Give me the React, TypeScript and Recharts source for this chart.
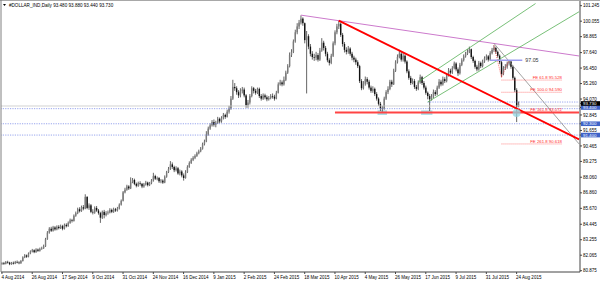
import React from "react";
import {
  ComposedChart,
  Bar,
  XAxis,
  YAxis,
  ReferenceLine,
  ReferenceArea,
  ReferenceDot,
} from "recharts";

// daily closes, 4 Aug 2014 .. 25 Aug 2015
const closes = [
  81.45, 81.4, 81.55, 81.5, 81.38, 81.48, 81.42, 81.55, 81.5, 81.45,
  81.62, 81.9, 82.05, 81.95, 82.2, 82.35, 82.45, 82.3, 82.5, 82.4,
  82.55, 82.6, 82.75, 83.3, 83.8, 84.1, 83.95, 84.2, 84.05, 84.25,
  84.15, 84.3, 84.1, 84.4, 84.3, 84.55, 84.75, 84.7, 85.1, 85.3,
  85.6, 85.45, 85.75, 85.65, 86.55, 85.7, 85.9, 85.4, 85.35, 85.7,
  85.5, 85.3, 84.95, 85.4, 85.15, 85.3, 85.35, 85.55, 85.4, 85.6,
  85.5, 85.65, 85.95, 86.25, 86.9, 87.1, 87.35, 87.2, 87.7, 87.85,
  87.55, 87.4, 87.6, 87.55, 87.35, 87.5, 87.65, 87.45, 87.6, 87.8,
  88.15, 87.95, 88.0, 87.75, 87.8, 87.65, 88.1, 88.45, 88.7, 89.05,
  88.85, 88.6, 88.75, 88.35, 88.5, 88.2, 88.0, 88.45, 88.85, 89.15,
  89.4, 89.55, 89.7, 89.9, 90.05, 90.25, 90.6, 90.8, 91.35, 91.8,
  92.05, 92.3, 92.1, 92.25, 92.55, 92.35, 92.6, 92.85, 92.7, 93.1,
  93.35, 94.1, 95.0, 94.9, 94.6, 94.35, 94.7, 94.8, 94.35, 93.6,
  93.8, 94.3, 94.9, 94.7, 94.55, 94.85, 94.3, 94.1, 94.35, 94.2,
  94.05, 94.15, 94.3, 94.25, 94.1, 94.55, 95.2, 95.35, 95.2, 95.55,
  96.1, 96.6, 97.45, 97.7, 98.5, 99.2, 99.65, 99.95, 100.25, 99.9,
  98.6, 98.9, 98.1, 97.55, 97.3, 97.25, 97.45, 97.1, 97.8, 98.4,
  98.0, 97.55, 97.05, 96.85, 97.4, 98.35, 99.2, 99.65, 99.85, 99.0,
  98.3, 97.85, 97.7, 97.95, 97.55, 97.25, 97.1, 96.9, 96.6, 95.45,
  94.9, 95.25, 95.6, 95.4, 94.95, 94.7, 94.85, 94.45, 94.1, 93.7,
  93.35, 93.3, 94.1, 94.6, 94.85, 95.4, 95.2, 96.25, 96.9, 97.3,
  97.55, 97.1, 97.4, 96.95, 96.2, 95.7, 95.3, 95.45, 95.0, 94.85,
  95.35, 95.75, 95.3, 94.95, 94.55, 94.3, 94.05, 94.25, 94.6, 94.45,
  94.95, 95.4, 95.2, 95.6, 95.45, 95.9, 96.25, 96.1, 96.45, 96.8,
  96.35, 96.05, 96.7, 97.05, 97.35, 97.55, 97.7, 97.9, 97.3, 97.0,
  96.55, 96.35, 96.85, 96.6, 96.95, 97.2, 97.35, 97.1, 97.6, 97.85,
  98.0, 97.7, 97.4, 96.9, 96.0, 96.45, 96.55, 96.8, 96.95, 96.55,
  95.7, 94.75, 93.48, 93.73,
];

const highs = [
  81.52, 81.55, 81.62, 81.64, 81.56, 81.55, 81.58, 81.63, 81.66, 81.6,
  81.7, 81.98, 82.15, 82.12, 82.28, 82.44, 82.55, 82.52, 82.6, 82.58,
  82.65, 82.72, 82.88, 83.4, 83.92, 84.22, 84.25, 84.32, 84.3, 84.36,
  84.38, 84.42, 84.4, 84.5, 84.52, 84.66, 84.88, 84.86, 85.2, 85.42,
  85.72, 85.75, 85.88, 85.92, 86.75, 86.6, 86.05, 86.0, 85.6, 85.82,
  85.85, 85.62, 85.4, 85.5, 85.55, 85.45, 85.5, 85.68, 85.65, 85.72,
  85.7, 85.78, 86.05, 86.35, 87.0, 87.25, 87.48, 87.45, 88.05, 88.0,
  87.95, 87.65, 87.72, 87.75, 87.62, 87.62, 87.78, 87.72, 87.7, 87.92,
  88.4, 88.25, 88.12, 88.08, 87.92, 87.9, 88.2, 88.55, 88.85, 89.3,
  89.2, 88.95, 88.9, 88.85, 88.65, 88.6, 88.35, 88.6, 88.98, 89.28,
  89.52, 89.68, 89.82, 90.02, 90.18, 90.38, 90.72, 90.95, 91.6, 91.95,
  92.2, 92.45, 92.5, 92.4, 92.7, 92.65, 92.75, 93.0, 92.95, 93.25,
  93.55, 94.3, 95.55, 95.3, 95.05, 94.75, 94.9, 95.0, 94.95, 94.45,
  94.0, 94.45, 95.05, 95.0, 94.85, 94.95, 94.95, 94.45, 94.5, 94.48,
  94.35, 94.3, 94.45, 94.5, 94.4, 94.7, 95.35, 95.55, 95.5, 95.8,
  96.25, 96.75, 97.65, 97.9, 98.65, 99.4, 99.9, 100.15, 100.5, 100.35,
  99.95, 99.3, 99.05, 98.3, 97.75, 97.55, 97.7, 97.6, 98.0, 98.75,
  98.55, 98.15, 97.7, 97.2, 97.55, 98.5, 99.35, 99.85, 100.1, 99.95,
  99.15, 98.45, 98.05, 98.15, 98.05, 97.7, 97.4, 97.25, 97.05, 96.7,
  95.6, 95.45, 95.8, 95.75, 95.55, 95.1, 95.05, 94.95, 94.6, 94.2,
  93.85, 93.55, 94.25, 94.75, 95.05, 95.55, 95.55, 96.4, 97.05, 97.5,
  97.85, 97.7, 97.6, 97.5, 97.05, 96.35, 95.85, 95.65, 95.6, 95.15,
  95.5, 95.95, 95.85, 95.45, 95.1, 94.65, 94.45, 94.45, 94.8, 94.75,
  95.1, 95.6, 95.55, 95.8, 95.75, 96.05, 96.45, 96.4, 96.6, 96.95,
  96.9, 96.5, 96.85, 97.2, 97.5, 97.7, 97.9, 98.1, 97.95, 97.4,
  97.1, 96.7, 97.0, 96.95, 97.1, 97.35, 97.5, 97.45, 97.75, 98.0,
  98.2, 98.1, 97.8, 97.5, 97.0, 96.6, 96.75, 96.95, 97.05, 97.05,
  96.65, 95.8, 94.9, 93.88,
];

const lows = [
  81.33, 81.32, 81.36, 81.42, 81.3, 81.33, 81.35, 81.38, 81.44, 81.37,
  81.4, 81.58, 81.84, 81.86, 81.9, 82.14, 82.28, 82.22, 82.25, 82.32,
  82.34, 82.48, 82.55, 82.7, 83.25, 83.72, 83.85, 83.88, 83.95, 83.98,
  84.05, 84.08, 83.98, 84.04, 84.2, 84.25, 84.48, 84.58, 84.65, 85.02,
  85.22, 85.35, 85.4, 85.52, 85.6, 85.6, 85.55, 85.3, 85.2, 85.25,
  85.4, 85.18, 84.55, 84.85, 84.9, 85.05, 85.18, 85.28, 85.3, 85.32,
  85.4, 85.42, 85.58, 85.88, 86.2, 86.82, 87.02, 87.08, 87.15, 87.6,
  87.45, 87.28, 87.32, 87.42, 87.22, 87.25, 87.42, 87.35, 87.38, 87.52,
  87.72, 87.85, 87.82, 87.62, 87.6, 87.55, 87.6, 88.02, 88.38, 88.62,
  88.7, 88.45, 88.5, 88.25, 88.2, 88.05, 87.8, 87.95, 88.38, 88.78,
  89.08, 89.3, 89.45, 89.62, 89.82, 89.98, 90.18, 90.5, 90.75, 91.25,
  91.7, 91.95, 91.95, 91.9, 92.15, 92.2, 92.25, 92.5, 92.55, 92.65,
  92.95, 93.25, 94.0, 94.7, 94.4, 94.15, 94.2, 94.5, 94.2, 93.4,
  93.4, 93.65, 94.2, 94.5, 94.4, 94.45, 94.15, 93.95, 94.0, 94.05,
  93.9, 93.95, 94.05, 94.1, 93.95, 94.05, 94.5, 95.1, 95.05, 95.1,
  95.45, 96.0, 96.5, 97.3, 97.6, 98.4, 99.05, 99.45, 99.8, 99.7,
  98.35, 94.5, 97.9, 97.35, 97.1, 97.0, 97.05, 96.95, 97.0, 97.7,
  97.8, 97.35, 96.9, 96.65, 96.75, 97.3, 98.2, 99.05, 99.45, 98.85,
  98.1, 97.65, 97.5, 97.55, 97.4, 97.05, 96.9, 96.7, 96.45, 95.3,
  94.75, 94.8, 95.1, 95.2, 94.8, 94.55, 94.55, 94.3, 93.95, 93.55,
  93.15, 93.1, 93.25, 94.0, 94.45, 94.75, 95.0, 95.15, 96.15, 96.8,
  97.2, 96.95, 96.95, 96.8, 96.05, 95.55, 95.15, 95.2, 94.85, 94.7,
  94.75, 95.25, 95.15, 94.8, 94.4, 94.05, 93.15, 93.95, 94.15, 94.3,
  94.35, 94.85, 95.05, 95.1, 95.3, 95.35, 95.8, 95.95, 96.0, 96.35,
  96.2, 95.85, 95.95, 96.6, 96.95, 97.25, 97.45, 97.6, 97.15, 96.85,
  96.4, 96.2, 96.25, 96.45, 96.5, 96.85, 97.05, 96.95, 97.0, 97.5,
  97.7, 97.55, 97.25, 96.75, 95.75, 95.9, 96.3, 96.4, 96.65, 96.4,
  95.55, 94.6, 92.3, 93.44,
];

const firstOpen = 81.4;
const SLOTS = 306; // bar slots across the plot, the right part is empty

const dateTickIdx = [0, 16, 32, 48, 64, 80, 96, 112, 128, 144, 160, 176, 192, 208, 224, 240, 256, 272];
const dateLabels = [
  "4 Aug 2014", "26 Aug 2014", "17 Sep 2014", "9 Oct 2014", "31 Oct 2014", "24 Nov 2014",
  "16 Dec 2014", "9 Jan 2015", "2 Feb 2015", "24 Feb 2015", "18 Mar 2015", "10 Apr 2015",
  "4 May 2015", "26 May 2015", "17 Jun 2015", "9 Jul 2015", "31 Jul 2015", "24 Aug 2015",
];

const priceTicks = [
  101.245, 100.055, 98.865, 97.64, 96.45, 95.26, 94.07, 92.845, 91.655,
  90.465, 89.275, 88.06, 86.86, 85.67, 84.445, 83.255, 82.065, 80.875,
];

// price tags on the axis (where they sit, what they say)
const tagValues = [93.42, 92.17, 91.3, 93.73];
const tagTexts = ["93.400", "92.300", "91.400", "93.730"];
const tagColors = ["#3f63c8", "#3f63c8", "#3f63c8", "#000000"];

// drawn objects: [index, price] pairs
const magentaLine = [[158, 100.52], [305, 97.38]];
const redTrend = [[178, 100.1], [305, 90.97]];
const channelUpper = [[220, 95.38], [282, 101.41]];
const channelLower = [[225, 93.84], [305, 100.78]];
const grayTrend = [[260, 98.35], [305, 90.62]];
const feSwing = [[260, 98.2], [264, 95.75], [268, 97.05]];
const supportLevel = 93.03;
const supportFrom = 176;
const fullDotted = [93.33, 92.17, 91.3];
const greyLevel = 93.535;
const shortDotted = { from: 225, v: 93.84 };
const level9705 = { from: 258, to: 275, v: 97.05 };
const lowBoxes = [[199, 203], [222, 227]];
const feLevels = [
  { ratio: "61.8", value: 95.528 },
  { ratio: "100.0", value: 94.59 },
  { ratio: "161.8", value: 93.072 },
  { ratio: "261.8", value: 90.618 },
];
const feFrom = 264;
const feTo = 296;

const rows = Array.from({ length: SLOTS }, (_, i) => {
  if (i >= closes.length) return { i };
  const open = i === 0 ? firstOpen : closes[i - 1];
  return { i, open, high: highs[i], low: lows[i], close: closes[i], range: [lows[i], highs[i]] };
});

const FONT = "'Liberation Sans', Arial, sans-serif";

function Candle(props: any) {
  const { x, y, width, height, payload } = props;
  if (!payload || payload.high == null || !isFinite(y)) return <g />;
  const top = Math.min(y, y + height);
  const bot = Math.max(y, y + height);
  const span = payload.high - payload.low || 1;
  const py = (v: number) => top + ((payload.high - v) / span) * (bot - top);
  const cx = x + width / 2;
  const o = py(payload.open);
  const c = py(payload.close);
  const up = payload.close >= payload.open;
  return (
    <g>
      <line x1={cx} x2={cx} y1={top} y2={bot} stroke="#333" strokeWidth={0.75} />
      <rect
        x={cx - 0.7}
        y={Math.min(o, c)}
        width={1.4}
        height={Math.max(Math.abs(o - c), 0.6)}
        fill={up ? "#7a7a7a" : "#111"}
      />
    </g>
  );
}

function DateTick({ x, y, payload }: any) {
  const k = dateTickIdx.indexOf(payload.value);
  return (
    <text x={x - 0.5} y={y + 3} fontSize={4.5} fill="#000" fontFamily={FONT}>
      {dateLabels[k]}
    </text>
  );
}

function PriceTick({ x, y, payload }: any) {
  const t = tagValues.indexOf(payload.value);
  if (t >= 0) {
    return (
      <g>
        <rect x={x - 2} y={y - 2.3} width={20} height={4.6} fill={tagColors[t]} />
        <text x={x} y={y} dy="0.35em" fontSize={4.4} fill="#fff" fontFamily={FONT}>
          {tagTexts[t]}
        </text>
      </g>
    );
  }
  return (
    <text x={x} y={y} dy="0.35em" fontSize={4.5} fill="#000" fontFamily={FONT}>
      {payload.value.toFixed(3)}
    </text>
  );
}

const seg = (p: number[][]) => p.map(([x, y]) => ({ x, y }));

export default function App() {
  return (
    <div style={{ position: "absolute", left: 0, top: 0, width: 600, height: 283, background: "#fff" }}>
      <ComposedChart
        width={600}
        height={283}
        data={rows}
        margin={{ top: 1, right: 0, bottom: 0, left: 1 }}
        barCategoryGap={0}
      >
        <XAxis
          dataKey="i"
          type="category"
          ticks={dateTickIdx}
          interval={0}
          height={11}
          tickSize={2}
          tickMargin={2}
          stroke="#444"
          tick={<DateTick />}
        />
        <YAxis
          orientation="right"
          type="number"
          domain={[80.775, 101.606]}
          allowDataOverflow
          ticks={[...priceTicks, ...tagValues]}
          interval={0}
          width={20}
          tickSize={2}
          tickMargin={1}
          stroke="#444"
          tick={<PriceTick />}
        />

        {lowBoxes.map(([a, b], k) => (
          <ReferenceArea key={"b" + k} x1={a} x2={b} y1={92.85} y2={93.2} fill="#8fd3df" fillOpacity={0.75} stroke="none" ifOverflow="visible" />
        ))}
        <ReferenceDot x={272} y={93.0} r={4} fill="#8fd3df" fillOpacity={0.75} stroke="none" ifOverflow="visible" />

        <ReferenceLine y={greyLevel} stroke="#c8c8c8" strokeWidth={0.8} ifOverflow="visible" />
        {fullDotted.map((v) => (
          <ReferenceLine key={"d" + v} y={v} stroke="#7d8ee8" strokeWidth={0.8} strokeDasharray="1.2 1.2" ifOverflow="visible" />
        ))}
        <ReferenceLine
          segment={[{ x: shortDotted.from, y: shortDotted.v }, { x: 305, y: shortDotted.v }]}
          stroke="#7d8ee8"
          strokeWidth={0.8}
          strokeDasharray="1.2 1.2"
          ifOverflow="visible"
        />

        <Bar dataKey="range" isAnimationActive={false} shape={<Candle />} />

        <ReferenceLine segment={seg(magentaLine)} stroke="#cc7acc" strokeWidth={1} ifOverflow="visible" />
        <ReferenceLine segment={seg(channelUpper)} stroke="#55b055" strokeWidth={0.8} ifOverflow="visible" />
        <ReferenceLine segment={seg(channelLower)} stroke="#55b055" strokeWidth={0.8} ifOverflow="visible" />
        <ReferenceLine segment={seg(grayTrend)} stroke="#8a8a8a" strokeWidth={0.8} ifOverflow="visible" />
        <ReferenceLine
          segment={[{ x: supportFrom, y: supportLevel }, { x: 305, y: supportLevel }]}
          stroke="#ff4444"
          strokeWidth={2}
          ifOverflow="visible"
        />
        <ReferenceLine segment={seg(redTrend)} stroke="#ff0000" strokeWidth={1.8} ifOverflow="visible" />
        <ReferenceLine segment={seg(feSwing.slice(0, 2))} stroke="#ff3333" strokeWidth={0.7} strokeDasharray="1 1" ifOverflow="visible" />
        <ReferenceLine segment={seg(feSwing.slice(1, 3))} stroke="#ff3333" strokeWidth={0.7} strokeDasharray="1 1" ifOverflow="visible" />

        {feLevels.map((f) => (
          <ReferenceLine
            key={"fe" + f.ratio}
            segment={[{ x: feFrom, y: f.value }, { x: feTo, y: f.value }]}
            stroke="#ff4d4d"
            strokeWidth={0.7}
            strokeDasharray="1 1"
            ifOverflow="visible"
          />
        ))}
        {feLevels.map((f) => (
          <ReferenceDot
            key={"fel" + f.ratio}
            x={feTo}
            y={f.value}
            r={0}
            ifOverflow="visible"
            shape={(p: any) => (
              <text x={p.cx} y={p.cy - 1.4} textAnchor="end" fontSize={4.3} fill="#ff2a2a" fontFamily={FONT}>
                {`FE ${f.ratio} ${f.value.toFixed(3)}`}
              </text>
            )}
          />
        ))}

        <ReferenceLine
          segment={[{ x: level9705.from, y: level9705.v }, { x: level9705.to, y: level9705.v }]}
          stroke="#9d9df0"
          strokeWidth={1.4}
          ifOverflow="visible"
        />
        <ReferenceDot
          x={level9705.to}
          y={level9705.v}
          r={0}
          ifOverflow="visible"
          shape={(p: any) => (
            <text x={p.cx + 3} y={p.cy} dy="0.35em" fontSize={5.3} fill="#333" fontFamily={FONT}>
              {level9705.v.toFixed(2)}
            </text>
          )}
        />
      </ComposedChart>

      <svg
        width={600}
        height={283}
        style={{ position: "absolute", left: 0, top: 0, pointerEvents: "none" }}
      >
        <line x1={0} x2={600} y1={0.5} y2={0.5} stroke="#a8a8a8" strokeWidth={1} />
        <line x1={1} x2={1} y1={0} y2={272} stroke="#808080" strokeWidth={1} />
        <path d="M3 4 L6 4 L4.5 6 Z" fill="#000" />
        <text x={9} y={6.6} fontSize={4.6} fill="#000" fontFamily={FONT}>
          #DOLLAR_IND,Daily  93.480 93.880 93.440 93.730
        </text>
      </svg>
    </div>
  );
}
